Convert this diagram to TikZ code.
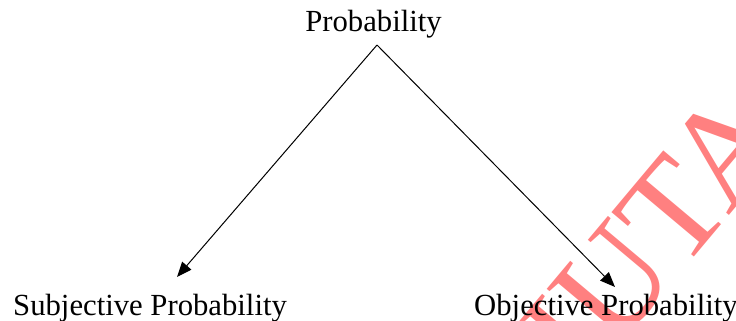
\documentclass[tikz,border=0pt]{standalone}
\usepackage{fontspec}
\setmainfont{Liberation Serif}
\usetikzlibrary{arrows.meta}
\definecolor{wm}{HTML}{FF8080}
\tikzset{
  lbl/.style={inner sep=0pt, font=\fontsize{30.7}{36}\selectfont},
  conn/.style={line width=1pt, -{Triangle[length=15pt,width=12pt]}},
  wmark/.style={text=wm, inner sep=0pt, font=\fontsize{140}{150}\selectfont, rotate=50}
}
\begin{document}
\begin{tikzpicture}[x=1pt,y=-1pt]
\useasboundingbox (0,0) rectangle (736,321);
\begin{scope}
\clip (0,0) rectangle (736,321);
\node[wmark] (wm) at (637,254) {HUTA};
\end{scope}
\node[lbl, anchor=base] (prob) at (373.5,32) {Probability};
\node[lbl, anchor=base west] (subj) at (13,315) {Subjective Probability};
\node[lbl, anchor=base west] (obj) at (474,315) {Objective Probability};
\coordinate (apex) at (377,45);
\coordinate (ltip) at (177,277);
\coordinate (rtip) at (615,287);
\draw[conn] (apex) -- (ltip);
\draw[conn] (apex) -- (rtip);
\end{tikzpicture}
\end{document}
